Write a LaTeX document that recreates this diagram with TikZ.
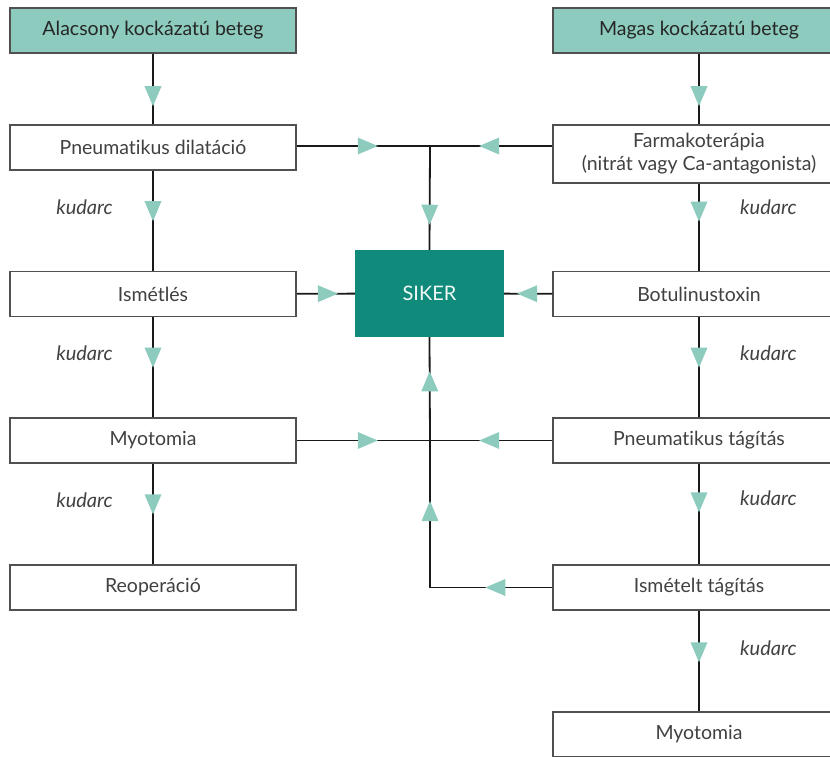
\documentclass[tikz,border=0pt]{standalone}
\usepackage{fontspec}
\setmainfont{Lato}[Ligatures=NoCommon]
\usepackage{tikz}
\usetikzlibrary{positioning,shapes.geometric}
\definecolor{tealLight}{RGB}{140,203,189}
\definecolor{tealDark}{RGB}{16,138,122}
\definecolor{boxLine}{RGB}{80,80,80}
\definecolor{txtGray}{RGB}{65,65,65}
\tikzset{
  box/.style={draw=boxLine,line width=1.5pt,minimum width=286pt,minimum height=45pt,inner sep=2pt,text=txtGray,align=center,font=\fontsize{19.5}{23}\selectfont},
  rbox/.style={box,minimum width=292pt},
  beteg/.style={fill=tealLight,text=black!85},
  sikerbox/.style={fill=tealDark,minimum width=149pt,minimum height=87pt,text=white!88!tealLight,font=\fontsize{20}{22}\selectfont},
  tri/.style={isosceles triangle,isosceles triangle stretches,fill=tealLight,minimum width=17pt,minimum height=20pt,inner sep=0pt,sloped,allow upside down},
  kud/.style={font=\fontsize{20}{22}\selectfont\itshape,text=txtGray},
  conn/.style={line width=1.8pt,black!90}
}
\begin{document}
\begin{tikzpicture}[x=1pt,y=-1pt]
    \clip (0,0) rectangle (830,757);
    \fill[white] (0,0) rectangle (830,757);
    \node[box,beteg] (lowrisk) at (153,30.5) {Alacsony kockázatú beteg};
    \node[rbox,beteg] (highrisk) at (699,30.5) {Magas kockázatú beteg};
    \node[box] (dil) at (153,147.5) {Pneumatikus dilatáció};
    \node[rbox,minimum height=58pt] (farm) at (699,154) {Farmakoterápia\\(nitrát vagy Ca-antagonista)};
    \node[box] (ism) at (153,294) {Ismétlés};
    \node[rbox] (botu) at (699,294) {Botulinustoxin};
    \node[box] (myoL) at (153,440.5) {Myotomia};
    \node[rbox] (ptag) at (699,440.5) {Pneumatikus tágítás};
    \node[box] (reop) at (153,587.5) {Reoperáció};
    \node[rbox] (ismt) at (699,587.5) {Ismételt tágítás};
    \node[rbox] (myoR) at (699,734.5) {Myotomia};
    \node[sikerbox] (siker) at (429.5,293.5) {SIKER};
    \coordinate (j1) at (430,146);
    \coordinate (j2) at (430,440.5);
    \coordinate (j3) at (430,587.5);
    \draw[conn] (lowrisk) -- node[tri,pos=.54] {} (dil);
    \draw[conn] (dil) -- node[tri,pos=.36] {} node[kud,pos=.36,left=36pt] {kudarc} (ism);
    \draw[conn] (ism) -- node[tri,pos=.36] {} node[kud,pos=.36,left=36pt] {kudarc} (myoL);
    \draw[conn] (myoL) -- node[tri,pos=.36] {} node[kud,pos=.36,left=36pt] {kudarc} (reop);
    \draw[conn] (highrisk) -- node[tri,pos=.54] {} (farm);
    \draw[conn] (farm) -- node[tri,pos=.27] {} node[kud,pos=.27,right=37pt] {kudarc} (botu);
    \draw[conn] (botu) -- node[tri,pos=.36] {} node[kud,pos=.36,right=37pt] {kudarc} (ptag);
    \draw[conn] (ptag) -- node[tri,pos=.34] {} node[kud,pos=.34,right=37pt] {kudarc} (ismt);
    \draw[conn] (ismt) -- node[tri,pos=.37] {} node[kud,pos=.37,right=37pt] {kudarc} (myoR);
    \draw[conn] (dil.east |- j1) -- node[tri,pos=.5] {} (j1);
    \draw[conn] (farm.west |- j1) -- node[tri,pos=.48] {} (j1);
    \draw[conn] (j1) -- node[tri,pos=.62] {} (siker.north);
    \draw[conn] (ism) -- node[tri,pos=.46] {} (siker);
    \draw[conn] (botu) -- node[tri,pos=.43] {} (siker);
    \draw[conn] (myoL) -- node[tri,pos=.5] {} (j2);
    \draw[conn] (ptag) -- node[tri,pos=.48] {} (j2);
    \draw[conn] (ismt) -- node[tri,pos=.43] {} (j3);
    \draw[conn] (j3) -- node[tri,pos=.49] {} (j2);
    \draw[conn] (j2) -- node[tri,pos=.53] {} (siker.south);
\end{tikzpicture}
\end{document}
